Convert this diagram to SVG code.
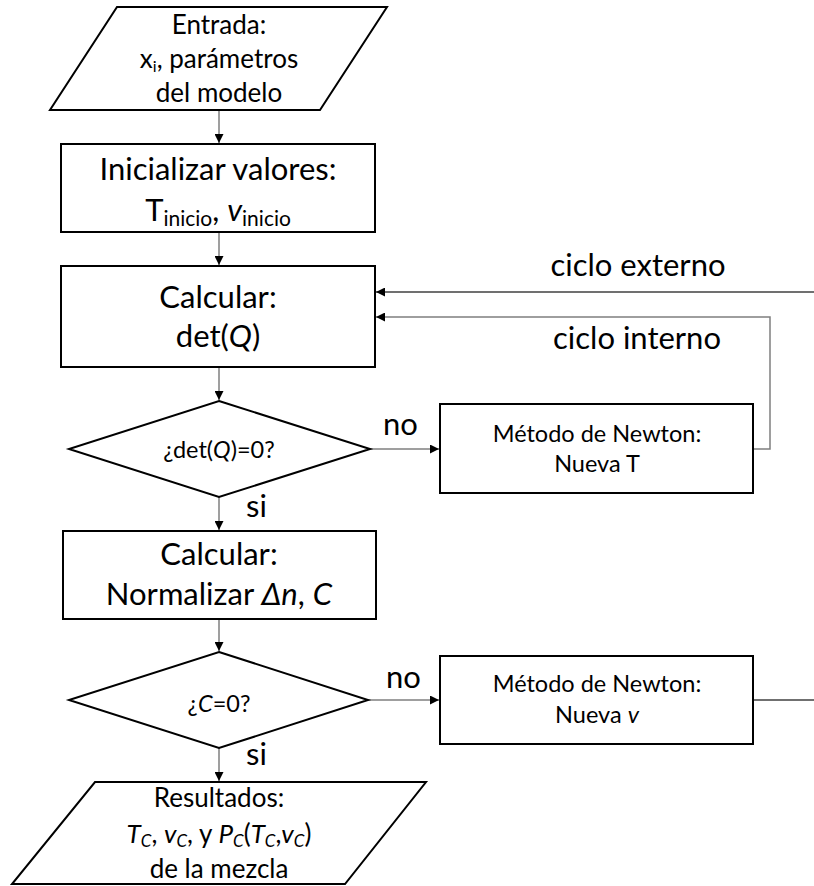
<svg xmlns="http://www.w3.org/2000/svg" width="814" height="886" viewBox="0 0 814 886">
<style>
  .shape { fill: #ffffff; stroke: #000000; stroke-width: 2; }
  .conn { fill: none; stroke: #7f7f7f; stroke-width: 1.5; }
  .dark { stroke: #404040; }
  text { font-family: Lato, "Open Sans", "Liberation Sans", sans-serif; fill: #000000; text-anchor: middle; }
  .big { font-size: 31px; }
  .mid { font-size: 26px; }
  .sm { font-size: 23.5px; }
  .lbl { font-size: 31px; text-anchor: start; }
  .it { font-style: italic; }
</style>
<defs>
  <marker id="arr" viewBox="0 0 10 10" refX="10" refY="5" markerWidth="9" markerHeight="9" markerUnits="userSpaceOnUse" orient="auto">
    <path d="M0,0 L10,5 L0,10 z" fill="#000000"/>
  </marker>
</defs>

<g id="connectors">
  <line class="conn" x1="219" y1="110" x2="219" y2="143" marker-end="url(#arr)"/>
  <line class="conn" x1="219" y1="232" x2="219" y2="265" marker-end="url(#arr)"/>
  <line class="conn" x1="219" y1="367" x2="219" y2="400" marker-end="url(#arr)"/>
  <line class="conn" x1="370" y1="449" x2="439" y2="449" marker-end="url(#arr)"/>
  <polyline class="conn" points="753,449 770,449 770,317 376,317" marker-end="url(#arr)"/>
  <line class="conn dark" x1="814" y1="292" x2="376" y2="292" marker-end="url(#arr)"/>
  <line class="conn" x1="219" y1="497" x2="219" y2="530" marker-end="url(#arr)"/>
  <line class="conn" x1="219" y1="619" x2="219" y2="651" marker-end="url(#arr)"/>
  <line class="conn" x1="368" y1="700" x2="439" y2="700" marker-end="url(#arr)"/>
  <line class="conn dark" x1="753" y1="700" x2="814" y2="700"/>
  <line class="conn" x1="219" y1="748" x2="219" y2="781" marker-end="url(#arr)"/>
  <text class="lbl" x="383" y="435">no</text>
  <text class="lbl" x="246" y="517">si</text>
  <text class="lbl" x="386" y="688">no</text>
  <text class="lbl" x="246" y="765">si</text>
  <text class="big" x="638" y="276">ciclo externo</text>
  <text class="big" x="637" y="349">ciclo interno</text>
</g>

<g id="entrada">
  <polygon class="shape" points="117,7 387,7 320,110 50,110"/>
  <text class="mid" x="219" y="34">Entrada:</text>
  <text class="mid" x="219" y="68">x<tspan font-size="16" dy="4">i</tspan><tspan dy="-4">, parámetros</tspan></text>
  <text class="mid" x="219" y="102">del modelo</text>
</g>

<g id="inicializar">
  <rect class="shape" x="61" y="144" width="314" height="88"/>
  <text class="big" x="218" y="180">Inicializar valores:</text>
  <text class="big" x="218" y="221">T<tspan font-size="21" dy="5">inicio</tspan><tspan dy="-5">, </tspan><tspan class="it">v</tspan><tspan font-size="21" dy="5">inicio</tspan></text>
</g>

<g id="calcular1">
  <rect class="shape" x="61" y="266" width="314" height="101"/>
  <text class="big" x="218" y="308">Calcular:</text>
  <text class="big" x="218" y="347">det(<tspan class="it">Q</tspan>)</text>
</g>

<g id="decision1">
  <polygon class="shape" points="219,401 370,449 219,497 69,449"/>
  <text class="sm" x="219" y="458">¿det(<tspan class="it">Q</tspan>)=0?</text>
</g>

<g id="newtonT">
  <rect class="shape" x="440" y="404" width="313" height="89"/>
  <text class="sm" x="597" y="442">Método de Newton:</text>
  <text class="sm" x="597" y="472">Nueva T</text>
</g>

<g id="calcular2">
  <rect class="shape" x="63" y="531" width="313" height="88"/>
  <text class="big" x="219" y="565">Calcular:</text>
  <text class="big" x="219" y="605">Normalizar <tspan class="it">Δn</tspan>, <tspan class="it">C</tspan></text>
</g>

<g id="decision2">
  <polygon class="shape" points="219,652 368,700 219,748 69,700"/>
  <text class="sm" x="219" y="712">¿<tspan class="it">C</tspan>=0?</text>
</g>

<g id="newtonV">
  <rect class="shape" x="440" y="656" width="313" height="88"/>
  <text class="sm" x="597" y="692">Método de Newton:</text>
  <text class="sm" x="597" y="723">Nueva <tspan class="it">v</tspan></text>
</g>

<g id="resultados">
  <polygon class="shape" points="95,782 426,782 345,884 12,884"/>
  <text class="mid" x="219" y="807">Resultados:</text>
  <text class="mid" x="219" y="843"><tspan class="it">T</tspan><tspan class="it" font-size="17" dy="4">C</tspan><tspan dy="-4">, </tspan><tspan class="it">v</tspan><tspan class="it" font-size="17" dy="4">C</tspan><tspan dy="-4">, y </tspan><tspan class="it">P</tspan><tspan class="it" font-size="17" dy="4">C</tspan><tspan dy="-4">(</tspan><tspan class="it">T</tspan><tspan class="it" font-size="17" dy="4">C</tspan><tspan dy="-4">,</tspan><tspan class="it">v</tspan><tspan class="it" font-size="17" dy="4">C</tspan><tspan dy="-4">)</tspan></text>
  <text class="mid" x="219" y="878">de la mezcla</text>
</g>
</svg>
